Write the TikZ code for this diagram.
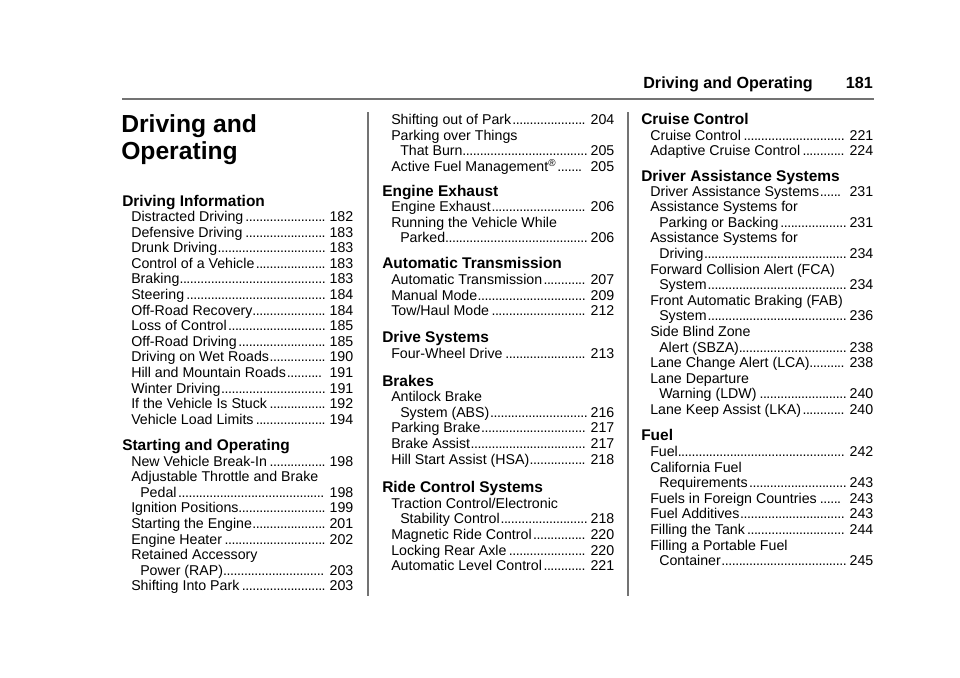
\documentclass[tikz,border=0pt]{standalone}
\usepackage{fontspec}
\setmainfont{Liberation Sans}
\newcommand\itf{\fontsize{10.65pt}{12pt}\selectfont}
\newcommand\hdf{\fontsize{11.6pt}{13pt}\selectfont\bfseries}
\newcommand\lfill{\leaders\hbox to 2.6pt{\hss.\hss}\hfill}
% #1 x, #2 y(center), #3 width pt, #4 text, #5 page
\newcommand\itm[5]{\node[anchor=base west,inner sep=0pt] at ({#1},{#2+5}) {\itf\makebox[#3pt][s]{#4\lfill\,#5}};}
\newcommand\itg[5]{\node[anchor=base west,inner sep=0pt] at ({#1},{#2+5}) {\itf\makebox[#3pt][s]{#4\lfill\hspace{4pt}#5}};}
\newcommand\txt[3]{\node[anchor=base west,inner sep=0pt] at ({#1},{#2+5}) {\itf #3};}
\newcommand\hd[3]{\node[anchor=base west,inner sep=0pt] at ({#1},{#2+5.5}) {\hdf #3};}
\begin{document}
\begin{tikzpicture}[x=0.75pt,y=-0.75pt]
\useasboundingbox (0,0) rectangle (960,678);
\tikzset{rulestyle/.style={draw=black!55,line width=1.1pt}}
% header
\node[anchor=base east,inner sep=0pt] (hdr) at (813,88) {\fontsize{12.1pt}{14pt}\selectfont\bfseries Driving and Operating};
\node[anchor=base east,inner sep=0pt] (pg) at (873,88) {\fontsize{12.1pt}{14pt}\selectfont\bfseries 181};
\draw[rulestyle] (122,99) -- (874,99);
\draw[rulestyle] (368,112) -- (368,596);
\draw[rulestyle] (628,112) -- (628,596);
% title
\node[anchor=base west,inner sep=0pt] (t1) at (121,132) {\fontsize{18.5pt}{20pt}\selectfont\bfseries Driving and};
\node[anchor=base west,inner sep=0pt] (t2) at (121,159) {\fontsize{18.5pt}{20pt}\selectfont\bfseries Operating};
% column 1
\def\a{131}\def\b{140}\def\wa{166.5}\def\wb{159.75}
\hd{122}{201}{Driving Information}
\itm{\a}{216.5}{\wa}{Distracted Driving}{182}
\itm{\a}{232.1}{\wa}{Defensive Driving}{183}
\itm{\a}{247.7}{\wa}{Drunk Driving}{183}
\itm{\a}{263.3}{\wa}{Control of a Vehicle}{183}
\itm{\a}{278.9}{\wa}{Braking}{183}
\itm{\a}{294.5}{\wa}{Steering}{184}
\itm{\a}{310.1}{\wa}{Off-Road Recovery}{184}
\itm{\a}{325.7}{\wa}{Loss of Control}{185}
\itm{\a}{341.3}{\wa}{Off-Road Driving}{185}
\itm{\a}{356.9}{\wa}{Driving on Wet Roads}{190}
\itg{\a}{372.5}{\wa}{Hill and Mountain Roads}{191}
\itm{\a}{388.1}{\wa}{Winter Driving}{191}
\itm{\a}{403.7}{\wa}{If the Vehicle Is Stuck}{192}
\itm{\a}{419.3}{\wa}{Vehicle Load Limits}{194}
\hd{122}{444.5}{Starting and Operating}
\itm{\a}{461}{\wa}{New Vehicle Break-In}{198}
\txt{\a}{476.6}{Adjustable Throttle and Brake}
\itm{\b}{492.2}{\wb}{Pedal}{198}
\itm{\a}{507.8}{\wa}{Ignition Positions}{199}
\itm{\a}{523.4}{\wa}{Starting the Engine}{201}
\itm{\a}{539}{\wa}{Engine Heater}{202}
\txt{\a}{554.6}{Retained Accessory}
\itm{\b}{570.2}{\wb}{Power (RAP)}{203}
\itm{\a}{585.8}{\wa}{Shifting Into Park}{203}
% column 2
\def\a{391}\def\b{400}\def\wa{167.25}\def\wb{160.5}
\itm{\a}{119.5}{\wa}{Shifting out of Park}{204}
\txt{\a}{135.1}{Parking over Things}
\itm{\b}{150.7}{\wb}{That Burn}{205}
\itg{\a}{166.3}{\wa}{Active Fuel Management\textsuperscript{\textregistered}}{205}
\hd{382}{191}{Engine Exhaust}
\itm{\a}{206.7}{\wa}{Engine Exhaust}{206}
\txt{\a}{222.3}{Running the Vehicle While}
\itm{\b}{237.9}{\wb}{Parked}{206}
\hd{382}{263}{Automatic Transmission}
\itm{\a}{279.5}{\wa}{Automatic Transmission}{207}
\itm{\a}{295.1}{\wa}{Manual Mode}{209}
\itm{\a}{310.7}{\wa}{Tow/Haul Mode}{212}
\hd{382}{337}{Drive Systems}
\itm{\a}{353.3}{\wa}{Four-Wheel Drive}{213}
\hd{382}{380.7}{Brakes}
\txt{\a}{396.7}{Antilock Brake}
\itm{\b}{412.3}{\wb}{System (ABS)}{216}
\itm{\a}{427.9}{\wa}{Parking Brake}{217}
\itm{\a}{443.5}{\wa}{Brake Assist}{217}
\itm{\a}{459.1}{\wa}{Hill Start Assist (HSA)}{218}
\hd{382}{486.5}{Ride Control Systems}
\txt{\a}{503.3}{Traction Control/Electronic}
\itm{\b}{518.9}{\wb}{Stability Control}{218}
\itm{\a}{534.5}{\wa}{Magnetic Ride Control}{220}
\itm{\a}{550.1}{\wa}{Locking Rear Axle}{220}
\itm{\a}{565.7}{\wa}{Automatic Level Control}{221}
% column 3
\def\a{650}\def\b{659}\def\wa{167.25}\def\wb{160.5}
\hd{641}{119.3}{Cruise Control}
\itm{\a}{135}{\wa}{Cruise Control}{221}
\itm{\a}{150.6}{\wa}{Adaptive Cruise Control}{224}
\hd{641}{175.5}{Driver Assistance Systems}
\itg{\a}{191}{\wa}{Driver Assistance Systems}{231}
\txt{\a}{206.6}{Assistance Systems for}
\itm{\b}{222.2}{\wb}{Parking or Backing}{231}
\txt{\a}{237.8}{Assistance Systems for}
\itm{\b}{253.4}{\wb}{Driving}{234}
\txt{\a}{269}{Forward Collision Alert (FCA)}
\itm{\b}{284.6}{\wb}{System}{234}
\txt{\a}{300.2}{Front Automatic Braking (FAB)}
\itm{\b}{315.8}{\wb}{System}{236}
\txt{\a}{331.4}{Side Blind Zone}
\itm{\b}{347}{\wb}{Alert (SBZA)}{238}
\itm{\a}{362.6}{\wa}{Lane Change Alert (LCA)}{238}
\txt{\a}{378.2}{Lane Departure}
\itm{\b}{393.8}{\wb}{Warning (LDW)}{240}
\itm{\a}{409.4}{\wa}{Lane Keep Assist (LKA)}{240}
\hd{641}{435}{Fuel}
\itm{\a}{451.5}{\wa}{Fuel}{242}
\txt{\a}{467.1}{California Fuel}
\itm{\b}{482.7}{\wb}{Requirements}{243}
\itg{\a}{498.3}{\wa}{Fuels in Foreign Countries}{243}
\itm{\a}{513.9}{\wa}{Fuel Additives}{243}
\itm{\a}{529.5}{\wa}{Filling the Tank}{244}
\txt{\a}{545.1}{Filling a Portable Fuel}
\itm{\b}{560.7}{\wb}{Container}{245}
\end{tikzpicture}
\end{document}
